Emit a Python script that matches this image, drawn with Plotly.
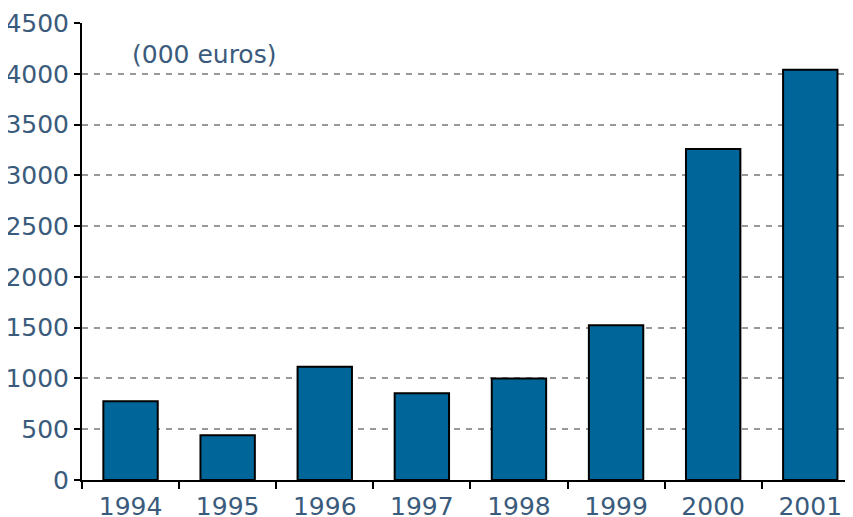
import plotly.graph_objects as go

years = ["1994", "1995", "1996", "1997", "1998", "1999", "2000", "2001"]
values = [775, 440, 1115, 855, 1000, 1525, 3260, 4040]
y_ticks = [0, 500, 1000, 1500, 2000, 2500, 3000, 3500, 4000, 4500]

text_color = "#3a5b7c"
font_family = "DejaVu Sans, Verdana, sans-serif"
fsize = 25

fig = go.Figure(
    go.Bar(
        x=years,
        y=values,
        marker=dict(color="#006699", line=dict(color="#000000", width=2)),
    )
)

fig.update_layout(
    width=845,
    height=509,
    margin=dict(l=74, r=0, t=15, b=37, autoexpand=False),
    paper_bgcolor="white",
    plot_bgcolor="white",
    bargap=0.44,
    showlegend=False,
    font=dict(family=font_family, size=fsize, color=text_color),
    annotations=[
        dict(
            text="(000 euros)",
            xref="paper", yref="paper",
            x=0.062, y=0.93,
            xanchor="left", yanchor="middle",
            showarrow=False,
            font=dict(family=font_family, size=fsize, color=text_color),
        )
    ],
)

fig.update_xaxes(
    type="category",
    range=[-0.5, 7.44],
    automargin=False,
    showline=True, linecolor="black", linewidth=2,
    ticks="outside", tickson="boundaries", ticklen=7, tickwidth=2, tickcolor="black",
    ticklabelstandoff=3,
    showgrid=False, zeroline=False,
    tickfont=dict(family=font_family, size=fsize, color=text_color),
)

fig.update_yaxes(
    range=[0, 4500],
    tickvals=y_ticks,
    automargin=False,
    showline=True, linecolor="black", linewidth=2,
    ticks="outside", ticklen=6, tickwidth=2, tickcolor="black",
    showgrid=True, gridcolor="#999999", gridwidth=2, griddash="6px,6px",
    zeroline=False,
    tickfont=dict(family=font_family, size=fsize, color=text_color),
)

fig.write_html("out.html")
